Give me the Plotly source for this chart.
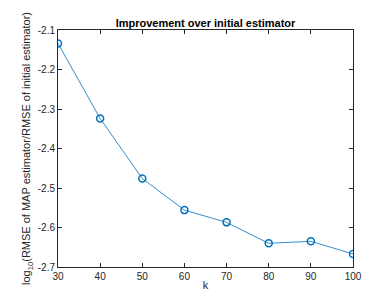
import plotly.graph_objects as go

k = [30, 40, 50, 60, 70, 80, 90, 100]
log_ratio = [-2.134, -2.324, -2.476, -2.556, -2.587, -2.640, -2.635, -2.667]
x_ticks = [30, 40, 50, 60, 70, 80, 90, 100]
y_ticks = [-2.7, -2.6, -2.5, -2.4, -2.3, -2.2, -2.1]

fig = go.Figure(go.Scatter(
    x=k, y=log_ratio, mode="lines+markers",
    line=dict(color="#0072BD", width=0.8),
    marker=dict(symbol="circle-open", size=7, color="#0072BD", line=dict(width=1.5, color="#0072BD")),
))

axis_common = dict(
    showgrid=False, zeroline=False, showline=True, linecolor="#262626", linewidth=1,
    mirror="ticks", ticks="inside", ticklen=4, tickcolor="#262626",
    tickfont=dict(family="Liberation Sans, Arial", size=10, color="#262626"),
)
fig.update_xaxes(range=[30, 100], tickvals=x_ticks, ticktext=[str(v) for v in x_ticks],
                 title=dict(text="k", font=dict(family="Liberation Sans, Arial", size=11, color="#262626"), standoff=0),
                 **axis_common)
fig.update_yaxes(range=[-2.7, -2.1], tickvals=y_ticks, ticktext=[f"{v:.1f}" for v in y_ticks],
                 title=dict(text="log<sub>10</sub>(RMSE of MAP estimator/RMSE of initial estimator)",
                            font=dict(family="Liberation Sans, Arial", size=11, color="#262626"), standoff=4),
                 **axis_common)
fig.update_layout(
    width=382, height=294,
    margin=dict(l=50, r=37, t=22, b=33),
    paper_bgcolor="white", plot_bgcolor="white",
    showlegend=False,
    title=dict(text="<b>Improvement over initial estimator</b>", x=0.5, xanchor="center",
               xref="paper", y=1, yref="paper", yanchor="bottom", pad=dict(b=3),
               font=dict(family="Liberation Sans, Arial", size=11, color="black")),
)
fig.write_html("out.html")
